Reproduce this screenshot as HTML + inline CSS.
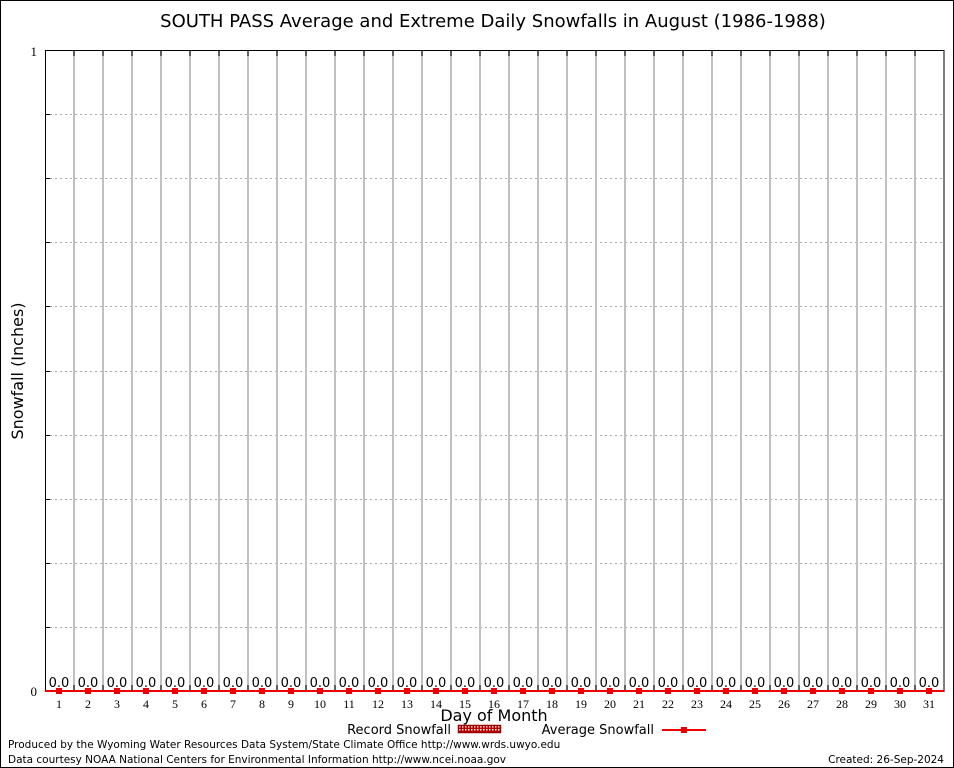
<!DOCTYPE html>
<html><head><meta charset="utf-8"><style>
html,body{margin:0;padding:0;background:#fff}
svg{display:block}
.s{font-family:"DejaVu Sans","Liberation Sans",sans-serif}
.r{font-family:"Liberation Serif","DejaVu Serif",serif}
</style></head><body>
<svg width="954" height="768" viewBox="0 0 954 768" xmlns="http://www.w3.org/2000/svg">
<defs><pattern id="p" width="3" height="3" patternUnits="userSpaceOnUse"><rect width="3" height="3" fill="#b00"/><rect width="1.5" height="1.5" fill="#fff"/></pattern></defs>
<rect x="0.5" y="0.5" width="953" height="767" fill="#fff" stroke="#000"/>
<text x="493" y="27" class="s" font-size="18" text-anchor="middle">SOUTH PASS Average and Extreme Daily Snowfalls in August (1986-1988)</text>
<g stroke="#aaa" stroke-dasharray="2,3" stroke-width="1">
<line x1="45" y1="114.5" x2="944" y2="114.5"/><line x1="45" y1="178.5" x2="944" y2="178.5"/>
<line x1="45" y1="242.5" x2="944" y2="242.5"/><line x1="45" y1="306.5" x2="944" y2="306.5"/>
<line x1="45" y1="371.5" x2="944" y2="371.5"/><line x1="45" y1="435.5" x2="944" y2="435.5"/>
<line x1="45" y1="499.5" x2="944" y2="499.5"/><line x1="45" y1="563.5" x2="944" y2="563.5"/>
<line x1="45" y1="627.5" x2="944" y2="627.5"/>
</g>
<g stroke="#000"><line x1="45" y1="114.5" x2="50" y2="114.5"/><line x1="45" y1="178.5" x2="50" y2="178.5"/><line x1="45" y1="242.5" x2="50" y2="242.5"/><line x1="45" y1="306.5" x2="50" y2="306.5"/><line x1="45" y1="371.5" x2="50" y2="371.5"/><line x1="45" y1="435.5" x2="50" y2="435.5"/><line x1="45" y1="499.5" x2="50" y2="499.5"/><line x1="45" y1="563.5" x2="50" y2="563.5"/><line x1="45" y1="627.5" x2="50" y2="627.5"/></g>
<g stroke="#c0c0c0" stroke-width="2">
<line x1="74" y1="50" x2="74" y2="691"/><line x1="103" y1="50" x2="103" y2="691"/><line x1="132" y1="50" x2="132" y2="691"/><line x1="161" y1="50" x2="161" y2="691"/><line x1="190" y1="50" x2="190" y2="691"/><line x1="219" y1="50" x2="219" y2="691"/><line x1="248" y1="50" x2="248" y2="691"/><line x1="277" y1="50" x2="277" y2="691"/><line x1="306" y1="50" x2="306" y2="691"/><line x1="335" y1="50" x2="335" y2="691"/><line x1="364" y1="50" x2="364" y2="691"/><line x1="393" y1="50" x2="393" y2="691"/><line x1="422" y1="50" x2="422" y2="691"/><line x1="451" y1="50" x2="451" y2="691"/><line x1="480" y1="50" x2="480" y2="691"/><line x1="509" y1="50" x2="509" y2="691"/><line x1="538" y1="50" x2="538" y2="691"/><line x1="567" y1="50" x2="567" y2="691"/><line x1="596" y1="50" x2="596" y2="691"/><line x1="625" y1="50" x2="625" y2="691"/><line x1="654" y1="50" x2="654" y2="691"/><line x1="683" y1="50" x2="683" y2="691"/><line x1="712" y1="50" x2="712" y2="691"/><line x1="741" y1="50" x2="741" y2="691"/><line x1="770" y1="50" x2="770" y2="691"/><line x1="799" y1="50" x2="799" y2="691"/><line x1="828" y1="50" x2="828" y2="691"/><line x1="857" y1="50" x2="857" y2="691"/><line x1="886" y1="50" x2="886" y2="691"/><line x1="915" y1="50" x2="915" y2="691"/>
</g>
<g stroke="#000">
<line x1="74" y1="50" x2="74" y2="56"/><line x1="103" y1="50" x2="103" y2="56"/><line x1="132" y1="50" x2="132" y2="56"/><line x1="161" y1="50" x2="161" y2="56"/><line x1="190" y1="50" x2="190" y2="56"/><line x1="219" y1="50" x2="219" y2="56"/><line x1="248" y1="50" x2="248" y2="56"/><line x1="277" y1="50" x2="277" y2="56"/><line x1="306" y1="50" x2="306" y2="56"/><line x1="335" y1="50" x2="335" y2="56"/><line x1="364" y1="50" x2="364" y2="56"/><line x1="393" y1="50" x2="393" y2="56"/><line x1="422" y1="50" x2="422" y2="56"/><line x1="451" y1="50" x2="451" y2="56"/><line x1="480" y1="50" x2="480" y2="56"/><line x1="509" y1="50" x2="509" y2="56"/><line x1="538" y1="50" x2="538" y2="56"/><line x1="567" y1="50" x2="567" y2="56"/><line x1="596" y1="50" x2="596" y2="56"/><line x1="625" y1="50" x2="625" y2="56"/><line x1="654" y1="50" x2="654" y2="56"/><line x1="683" y1="50" x2="683" y2="56"/><line x1="712" y1="50" x2="712" y2="56"/><line x1="741" y1="50" x2="741" y2="56"/><line x1="770" y1="50" x2="770" y2="56"/><line x1="799" y1="50" x2="799" y2="56"/><line x1="828" y1="50" x2="828" y2="56"/><line x1="857" y1="50" x2="857" y2="56"/><line x1="886" y1="50" x2="886" y2="56"/><line x1="915" y1="50" x2="915" y2="56"/>
<line x1="74" y1="691" x2="74" y2="685"/><line x1="103" y1="691" x2="103" y2="685"/><line x1="132" y1="691" x2="132" y2="685"/><line x1="161" y1="691" x2="161" y2="685"/><line x1="190" y1="691" x2="190" y2="685"/><line x1="219" y1="691" x2="219" y2="685"/><line x1="248" y1="691" x2="248" y2="685"/><line x1="277" y1="691" x2="277" y2="685"/><line x1="306" y1="691" x2="306" y2="685"/><line x1="335" y1="691" x2="335" y2="685"/><line x1="364" y1="691" x2="364" y2="685"/><line x1="393" y1="691" x2="393" y2="685"/><line x1="422" y1="691" x2="422" y2="685"/><line x1="451" y1="691" x2="451" y2="685"/><line x1="480" y1="691" x2="480" y2="685"/><line x1="509" y1="691" x2="509" y2="685"/><line x1="538" y1="691" x2="538" y2="685"/><line x1="567" y1="691" x2="567" y2="685"/><line x1="596" y1="691" x2="596" y2="685"/><line x1="625" y1="691" x2="625" y2="685"/><line x1="654" y1="691" x2="654" y2="685"/><line x1="683" y1="691" x2="683" y2="685"/><line x1="712" y1="691" x2="712" y2="685"/><line x1="741" y1="691" x2="741" y2="685"/><line x1="770" y1="691" x2="770" y2="685"/><line x1="799" y1="691" x2="799" y2="685"/><line x1="828" y1="691" x2="828" y2="685"/><line x1="857" y1="691" x2="857" y2="685"/><line x1="886" y1="691" x2="886" y2="685"/><line x1="915" y1="691" x2="915" y2="685"/>
</g>
<rect x="45.5" y="50.5" width="898.5" height="641" fill="none" stroke="#000"/>
<line x1="45" y1="691" x2="944" y2="691" stroke="#e00" stroke-width="2"/>
<g fill="#e00">
<rect x="56" y="688" width="6" height="6"/><rect x="85" y="688" width="6" height="6"/><rect x="114" y="688" width="6" height="6"/><rect x="143" y="688" width="6" height="6"/><rect x="172" y="688" width="6" height="6"/><rect x="201" y="688" width="6" height="6"/><rect x="230" y="688" width="6" height="6"/><rect x="259" y="688" width="6" height="6"/><rect x="288" y="688" width="6" height="6"/><rect x="317" y="688" width="6" height="6"/><rect x="346" y="688" width="6" height="6"/><rect x="375" y="688" width="6" height="6"/><rect x="404" y="688" width="6" height="6"/><rect x="433" y="688" width="6" height="6"/><rect x="462" y="688" width="6" height="6"/><rect x="491" y="688" width="6" height="6"/><rect x="520" y="688" width="6" height="6"/><rect x="549" y="688" width="6" height="6"/><rect x="578" y="688" width="6" height="6"/><rect x="607" y="688" width="6" height="6"/><rect x="636" y="688" width="6" height="6"/><rect x="665" y="688" width="6" height="6"/><rect x="694" y="688" width="6" height="6"/><rect x="723" y="688" width="6" height="6"/><rect x="752" y="688" width="6" height="6"/><rect x="781" y="688" width="6" height="6"/><rect x="810" y="688" width="6" height="6"/><rect x="839" y="688" width="6" height="6"/><rect x="868" y="688" width="6" height="6"/><rect x="897" y="688" width="6" height="6"/><rect x="926" y="688" width="6" height="6"/>
</g>
<g class="s" font-size="13" text-anchor="middle">
<text x="59" y="687">0.0</text><text x="88" y="687">0.0</text><text x="117" y="687">0.0</text><text x="146" y="687">0.0</text><text x="175" y="687">0.0</text><text x="204" y="687">0.0</text><text x="233" y="687">0.0</text><text x="262" y="687">0.0</text><text x="291" y="687">0.0</text><text x="320" y="687">0.0</text><text x="349" y="687">0.0</text><text x="378" y="687">0.0</text><text x="407" y="687">0.0</text><text x="436" y="687">0.0</text><text x="465" y="687">0.0</text><text x="494" y="687">0.0</text><text x="523" y="687">0.0</text><text x="552" y="687">0.0</text><text x="581" y="687">0.0</text><text x="610" y="687">0.0</text><text x="639" y="687">0.0</text><text x="668" y="687">0.0</text><text x="697" y="687">0.0</text><text x="726" y="687">0.0</text><text x="755" y="687">0.0</text><text x="784" y="687">0.0</text><text x="813" y="687">0.0</text><text x="842" y="687">0.0</text><text x="871" y="687">0.0</text><text x="900" y="687">0.0</text><text x="929" y="687">0.0</text>
</g>
<g class="r" font-size="12" text-anchor="middle">
<text x="59" y="708">1</text><text x="88" y="708">2</text><text x="117" y="708">3</text><text x="146" y="708">4</text><text x="175" y="708">5</text><text x="204" y="708">6</text><text x="233" y="708">7</text><text x="262" y="708">8</text><text x="291" y="708">9</text><text x="320" y="708">10</text><text x="349" y="708">11</text><text x="378" y="708">12</text><text x="407" y="708">13</text><text x="436" y="708">14</text><text x="465" y="708">15</text><text x="494" y="708">16</text><text x="523" y="708">17</text><text x="552" y="708">18</text><text x="581" y="708">19</text><text x="610" y="708">20</text><text x="639" y="708">21</text><text x="668" y="708">22</text><text x="697" y="708">23</text><text x="726" y="708">24</text><text x="755" y="708">25</text><text x="784" y="708">26</text><text x="813" y="708">27</text><text x="842" y="708">28</text><text x="871" y="708">29</text><text x="900" y="708">30</text><text x="929" y="708">31</text>
</g>
<g class="r" font-size="13" text-anchor="end"><text x="37" y="696">0</text><text x="37" y="56">1</text></g>
<text x="494" y="721" class="s" font-size="16" text-anchor="middle">Day of Month</text>
<text transform="translate(23,371) rotate(-90)" class="s" font-size="16" text-anchor="middle">Snowfall (Inches)</text>
<text x="451" y="734" class="s" font-size="13" text-anchor="end">Record Snowfall</text>
<rect x="458.5" y="725.5" width="42" height="7" fill="url(#p)" stroke="#900" stroke-width="1.5"/>
<text x="654" y="734" class="s" font-size="13" text-anchor="end">Average Snowfall</text>
<line x1="662" y1="730" x2="706" y2="730" stroke="#e00" stroke-width="2"/>
<rect x="681" y="727" width="6" height="6" fill="#e00"/>
<text x="8" y="748" class="s" font-size="10.5">Produced by the Wyoming Water Resources Data System/State Climate Office http://www.wrds.uwyo.edu</text>
<text x="8" y="763" class="s" font-size="10.5">Data courtesy NOAA National Centers for Environmental Information http://www.ncei.noaa.gov</text>
<text x="944" y="763" class="s" font-size="10.5" text-anchor="end">Created:  26-Sep-2024</text>
</svg>
</body></html>
